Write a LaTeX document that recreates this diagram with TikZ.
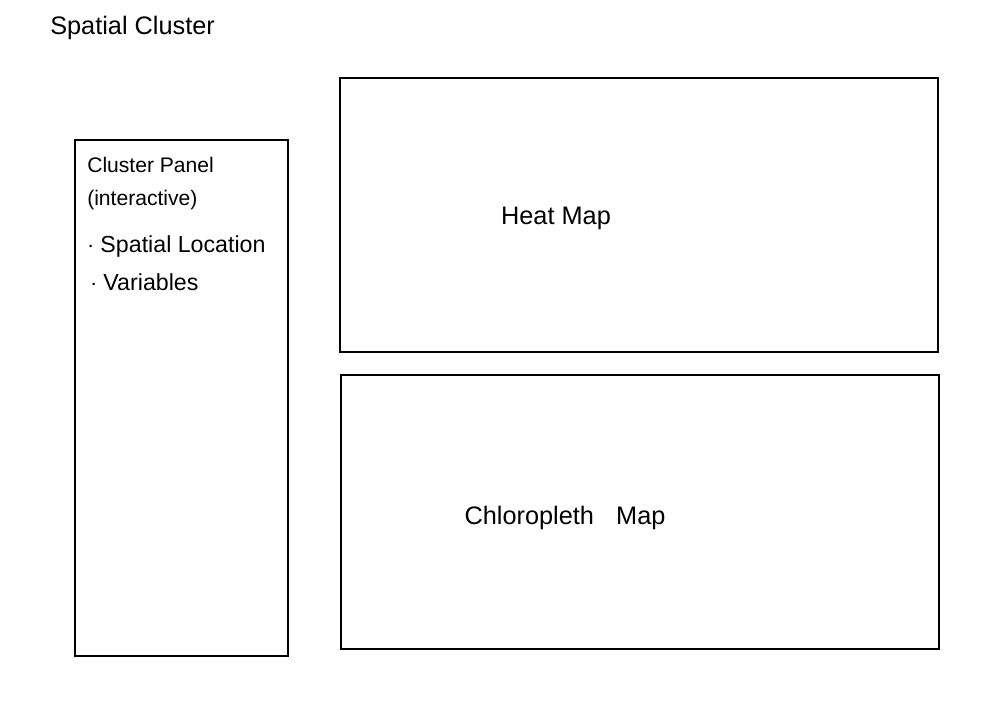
\documentclass[tikz,border=0pt]{standalone}
\usepackage{fontspec}
\setmainfont{Liberation Sans}
\usetikzlibrary{positioning}
\tikzset{
  frame/.style={draw=black,line width=1.3pt,inner sep=0pt},
  title/.style={font=\fontsize{18}{20}\selectfont,anchor=base west,inner sep=0pt},
  paneltext/.style={font=\fontsize{15}{17}\selectfont,anchor=base west,inner sep=0pt},
  itemtext/.style={font=\fontsize{16.5}{18}\selectfont,anchor=base west,inner sep=0pt},
  maplabel/.style={font=\fontsize{18}{20}\selectfont,inner sep=0pt}
}
\begin{document}
\begin{tikzpicture}[x=0.025cm,y=-0.025cm]
\useasboundingbox (0,0) rectangle (1008,712);
\node[title] (heading) at (50,34) {Spatial Cluster};

\node[frame,minimum width=5.325cm,minimum height=12.9cm,anchor=north west] (panel) at (74,139) {};
\node[paneltext] (paneltitle) at (87,172) {Cluster Panel};
\node[paneltext] (panelsub) at (87,205) {(interactive)};
\node[itemtext] (location) at (87,252) {$\cdot$ Spatial Location};
\node[itemtext] (variables) at (90,290) {$\cdot$ Variables};

\node[frame,minimum width=14.95cm,minimum height=6.85cm,anchor=north west] (heatmap) at (339,77) {};
\node[maplabel] (heatlabel) at (556,218) {Heat Map};

\node[frame,minimum width=14.95cm,minimum height=6.85cm,anchor=north west] (choromap) at (340,374) {};
\node[maplabel] (cholabel) at (565,518) {Chloropleth\hspace{0.6em} Map};
\end{tikzpicture}
\end{document}
